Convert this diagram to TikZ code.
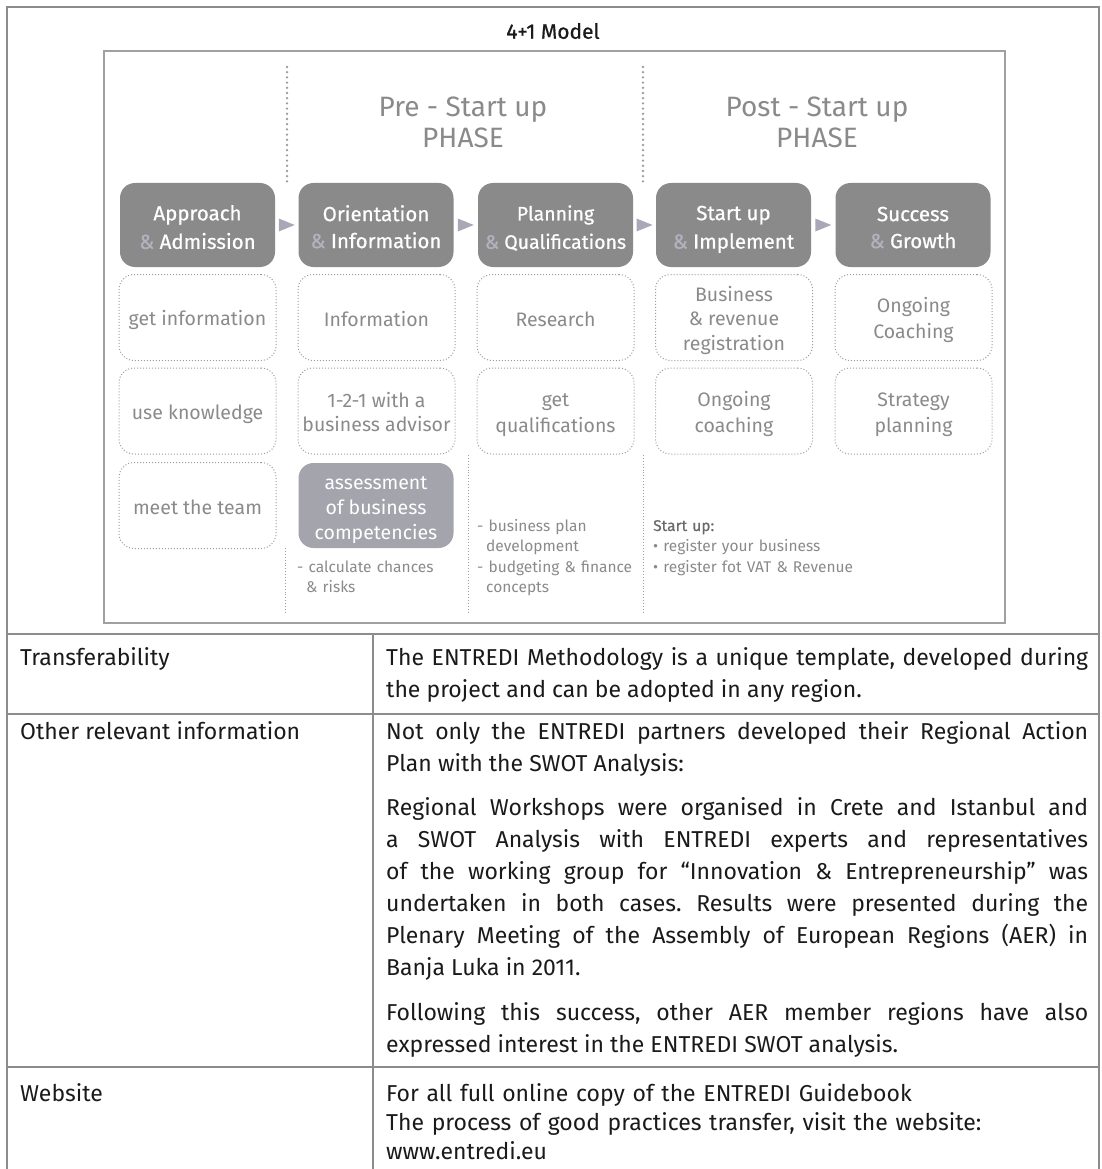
\documentclass[tikz,border=0pt]{standalone}
\usepackage{fontspec}
\setmainfont{Fira Sans}
\newfontfamily\medfont{Fira Sans}[FakeBold=0.7]
\usetikzlibrary{calc}
\definecolor{boxgray}{HTML}{8A8A8A}
\definecolor{ampgray}{HTML}{B2B2BF}
\definecolor{trigray}{HTML}{A8A8B6}
\definecolor{assessgray}{HTML}{A4A4AD}
\definecolor{dotgray}{HTML}{9C9C9C}
\definecolor{txtgray}{HTML}{8A8A8A}
\definecolor{darktxt}{HTML}{6A6A6A}
\definecolor{tblline}{HTML}{8C8C8C}
\definecolor{framegray}{HTML}{A0A0A0}
\definecolor{bodytxt}{HTML}{1A1A1A}
\newcommand{\amp}{\textcolor{ampgray}{\&}}
\newcommand{\st}{\rule[-0.143\baselineskip]{0pt}{\baselineskip}}
\frenchspacing
\begin{document}
\begin{tikzpicture}[x=1pt,y=-1pt,
  tbl/.style={draw=tblline,line width=2.2pt},
  imgframe/.style={draw=framegray,line width=1.5pt},
  phasebox/.style={fill=boxgray,rounded corners=15pt,minimum width=155pt,minimum height=84pt,
    text=white,font=\medfont\fontsize{20.5}{27}\selectfont,align=center,inner sep=0pt},
  dotbox/.style={draw=dotgray,dotted,line width=1pt,rounded corners=15pt,minimum width=157pt,
    minimum height=86pt,text=txtgray,font=\fontsize{19.5}{24.5}\selectfont,align=center,inner sep=0pt},
  assessbox/.style={fill=assessgray,rounded corners=15pt,minimum width=155pt,minimum height=85pt,
    text=white,font=\fontsize{19.5}{25}\selectfont,align=center,inner sep=0pt},
  phasehead/.style={text=txtgray,font=\fontsize{28}{31}\selectfont,align=center,inner sep=0pt},
  bigdots/.style={draw=dotgray,line width=2.6pt,line cap=round,dash pattern=on 0pt off 5.2pt},
  smalldots/.style={draw=dotgray,line width=0.9pt,dotted},
  tri/.style={fill=trigray},
  note/.style={text=txtgray,font=\fontsize{15.5}{20.5}\selectfont,align=left,inner sep=0pt,text width=200pt},
  lbl/.style={text=bodytxt,font=\fontsize{23}{32}\selectfont,inner sep=0pt},
  para/.style={text=bodytxt,font=\fontsize{23}{32}\selectfont,inner sep=0pt,text width=702pt,align=justify},
  web/.style={text=bodytxt,font=\fontsize{23}{29}\selectfont,inner sep=0pt,text width=702pt,align=left}
]
\useasboundingbox (0,0) rectangle (1101,1169);
% table frame
\draw[tbl] (7,1169) -- (7,7) -- (1099,7) -- (1099,1169);
\draw[tbl] (7,634) -- (1099,634);
\draw[tbl] (7,714) -- (1099,714);
\draw[tbl] (7,1067) -- (1099,1067);
\draw[tbl] (373,634) -- (373,1169);
% title
\node[text=bodytxt,font=\medfont\fontsize{21}{24}\selectfont,inner sep=0pt] (title) at (553,31) {4+1 Model};
% image frame
\draw[imgframe] (104,51) rectangle (1005,623);
% phase headings
\node[phasehead] (pre) at (463,122) {Pre - Start up\\PHASE};
\node[phasehead] (post) at (817,122) {Post - Start up\\PHASE};
% dotted separators
\coordinate (s1t) at (287,67); \coordinate (s1b) at (287,183);
\coordinate (s2t) at (643,67); \coordinate (s2b) at (643,183);
\draw[bigdots] (s1t) -- (s1b);
\draw[bigdots] (s2t) -- (s2b);
% phase boxes
\node[phasebox] (b1) at (197.5,225) {\st Approach\\\st\amp{} Admission};
\node[phasebox] (b2) at (376,225) {\st Orientation\\\st\amp{} Information};
\node[phasebox,font=\medfont\fontsize{19.5}{27}\selectfont] (b3) at (555.5,225) {\st Planning\\\st\amp{} Qualifications};
\node[phasebox] (b4) at (733.5,225) {\st Start up\\\st\amp{} Implement};
\node[phasebox] (b5) at (913,225) {\st Success\\\st\amp{} Growth};
% arrows
\foreach \a/\b in {b1/b2,b2/b3,b3/b4,b4/b5}{
  \fill[tri] ($(\a.east)!0.5!(\b.west)+(-8,-6.5)$) -- ++(16,6.5) -- ++(-16,6.5) -- cycle;
}
% dotted boxes
\node[dotbox] (d11) at (197.5,317.5) {\st get information};
\node[dotbox] (d12) at (197.5,411) {\st use knowledge};
\node[dotbox] (d13) at (197.5,505.5) {\st meet the team};
\node[dotbox] (d21) at (376.5,317.5) {\st Information};
\node[dotbox] (d22) at (376.5,411) {\st 1-2-1 with a\\\st business advisor};
\node[assessbox] (d23) at (376,505.5) {\st assessment\\\st of business\\\st competencies};
\node[dotbox] (d31) at (555.5,317.5) {\st Research};
\node[dotbox] (d32) at (555.5,411) {\st get\\\st qualifications};
\node[dotbox] (d41) at (734,317.5) {\st Business\\\st\& revenue\\\st registration};
\node[dotbox] (d42) at (734,411) {\st Ongoing\\\st coaching};
\node[dotbox] (d51) at (913.5,317.5) {\st Ongoing\\\st Coaching};
\node[dotbox] (d52) at (913.5,411) {\st Strategy\\\st planning};
% lower dotted separators
\coordinate (l1t) at (285,548); \coordinate (l1b) at (285,614);
\coordinate (l2t) at (468,455); \coordinate (l2b) at (468,614);
\coordinate (l3t) at (643,455); \coordinate (l3b) at (643,614);
\draw[smalldots] (l1t) -- (l1b);
\draw[smalldots] (l2t) -- (l2b);
\draw[smalldots] (l3t) -- (l3b);
% notes
\node[note,anchor=base west] (n2) at (297,572) {- calculate chances\\\hspace*{9pt}\& risks};
\node[note,anchor=base west] (n3) at (477,531) {- business plan\\\hspace*{9pt}development\\- budgeting \& finance\\\hspace*{9pt}concepts};
\node[note,anchor=base west] (n4) at (653,531) {\textcolor{darktxt}{\medfont Start up:}\\\textbullet\ register your business\\\textbullet\ register fot VAT \& Revenue};
% table text
\node[lbl,anchor=base west] (k1) at (20,665) {Transferability};
\node[para,anchor=base west] (v1) at (386,665) {The ENTREDI Methodology is a unique template, developed during\linebreak the project and can be adopted in any region.};
\node[lbl,anchor=base west] (k2) at (20,739) {Other relevant information};
\node[para,anchor=base west] (v2a) at (386,739) {Not only the ENTREDI partners developed their Regional Action\linebreak Plan with the SWOT Analysis:};
\node[para,anchor=base west] (v2b) at (386,815) {Regional Workshops were organised in Crete and Istanbul and\linebreak a SWOT Analysis with ENTREDI experts and representatives\linebreak of the working group for “Innovation \& Entrepreneurship” was\linebreak undertaken in both cases. Results were presented during the\linebreak Plenary Meeting of the Assembly of European Regions (AER) in\linebreak Banja Luka in 2011.};
\node[para,anchor=base west] (v2c) at (386,1020) {Following this success, other AER member regions have also\linebreak expressed interest in the ENTREDI SWOT analysis.};
\node[lbl,anchor=base west] (k3) at (20,1101) {Website};
\node[web,anchor=base west] (v3) at (386,1101) {For all full online copy of the ENTREDI Guidebook\\The process of good practices transfer, visit the website:\\www.entredi.eu};
\end{tikzpicture}
\end{document}
